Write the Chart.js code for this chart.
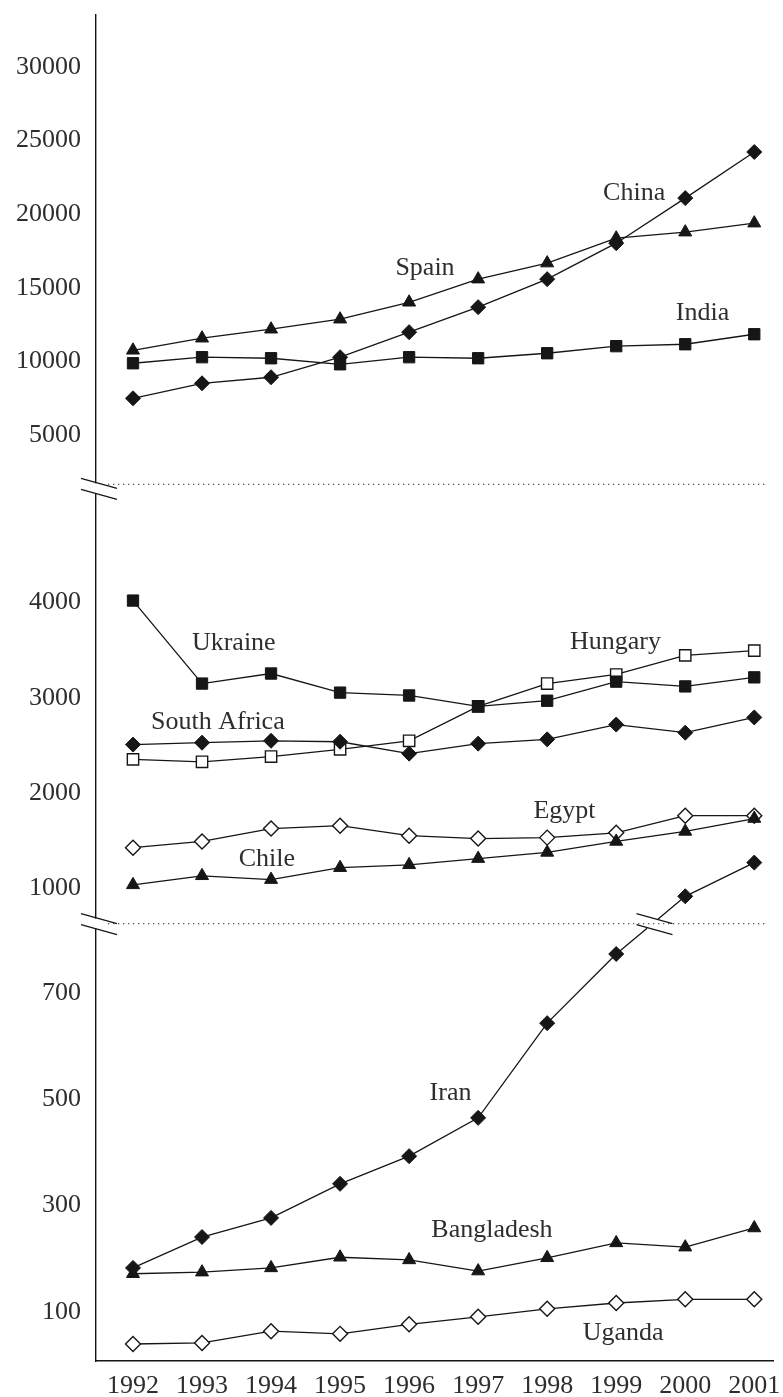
<!DOCTYPE html>
<html>
<head>
<meta charset="utf-8">
<script src="https://cdn.jsdelivr.net/npm/chart.js@4.4.0/dist/chart.umd.min.js"></script>
<style>
  html, body { margin: 0; padding: 0; background: #fff; }
  #wrap { width: 783px; height: 1397px; position: relative; }
</style>
</head>
<body>
<div id="wrap"><canvas id="chart"></canvas></div>
<script>
const years = [1992, 1993, 1994, 1995, 1996, 1997, 1998, 1999, 2000, 2001];

// top panel
const spain = [10770, 11590, 12200, 12880, 14030, 15600, 16690, 18380, 18790, 19400];
const china = [7510, 8530, 8940, 10300, 12000, 13700, 15600, 18040, 21100, 24230];
const india = [9890, 10300, 10230, 9820, 10300, 10230, 10570, 11050, 11180, 11860];

// middle panel
const ukraine = [4020, 3150, 3255, 3055, 3025, 2910, 2970, 3170, 3120, 3215];
const southAfrica = [2510, 2530, 2550, 2540, 2415, 2520, 2565, 2720, 2635, 2795];
const hungary = [2355, 2330, 2385, 2460, 2550, 2910, 3150, 3245, 3445, 3495];
const egypt = [1430, 1495, 1630, 1660, 1555, 1525, 1535, 1585, 1765, 1765];
const chile = [1040, 1135, 1095, 1220, 1250, 1315, 1380, 1495, 1600, 1735];

// bottom panel - Iran climbs into the middle panel from 2000 on
const iran = [183, 241, 277, 341, 393, 465, 643, 773, 920, 1273];
const bangladesh = [172, 175, 183, 203, 198, 177, 202, 230, 222, 258];
const uganda = [40, 42, 64, 59, 77, 91, 106, 117, 124, 124];
const iranSplit = 8;

const topTicks = [5000, 10000, 15000, 20000, 25000, 30000];
const midTicks = [1000, 2000, 3000, 4000];
const lowTicks = [100, 300, 500, 700];

const topRange = [1670, 33530];
const midRange = [633, 5238];
const lowRange = [8, 830];

// series names, written next to the lines (data units)
const labelText = ["Spain", "China", "India", "Ukraine", "South Africa", "Hungary", "Egypt", "Chile", "Iran", "Bangladesh", "Uganda"];
const labelYear = [1996.23, 1999.26, 2000.25, 1993.46, 1993.23, 1998.99, 1998.25, 1993.94, 1996.6, 1997.2, 1999.1];
const labelValue = [16320, 21410, 13260, 3570, 2750, 3580, 1817, 1314, 512, 254, 60];
const labelAxis = ["yTop", "yTop", "yTop", "yMid", "yMid", "yMid", "yMid", "yMid", "yLow", "yLow", "yLow"];

const ink = "#161616";
const textInk = "#2e2e2e";
const serif = "'Liberation Serif', 'Times New Roman', serif";

function series(label, values, axis, style, filled, from = 0, to = values.length) {
  return {
    label,
    yAxisID: axis,
    data: values.slice(from, to).map((v, i) => ({ x: years[from + i], y: v })),
    borderColor: ink,
    borderWidth: 1.3,
    pointStyle: style,
    pointRadius: style === "rect" ? 8 : 7.5,
    pointBackgroundColor: filled ? ink : "#fff",
    pointBorderColor: ink,
    pointBorderWidth: filled ? 1 : 1.4,
    tension: 0,
    fill: false,
  };
}

const datasets = [
  series("Spain", spain, "yTop", "triangle", true),
  series("India", india, "yTop", "rect", true),
  series("China", china, "yTop", "rectRot", true),
  series("Ukraine", ukraine, "yMid", "rect", true),
  series("South Africa", southAfrica, "yMid", "rectRot", true),
  series("Hungary", hungary, "yMid", "rect", false),
  series("Chile", chile, "yMid", "triangle", true),
  series("Egypt", egypt, "yMid", "rectRot", false),
  series("Iran", iran, "yLow", "rectRot", true, 0, iranSplit),
  series("Iran (upper)", iran, "yMid", "rectRot", true, iranSplit),
  series("Bangladesh", bangladesh, "yLow", "triangle", true),
  series("Uganda", uganda, "yLow", "rectRot", false),
];

// ticks never sit at the scale ends, so no edge padding is needed
function noEdgePadding(scale) {
  scale.paddingTop = 0;
  scale.paddingBottom = 0;
  scale.paddingLeft = 0;
  scale.paddingRight = 0;
}

function yScale(range, ticks, weight) {
  return {
    type: "linear",
    position: "left",
    stack: "panels",
    stackWeight: weight,
    min: range[0],
    max: range[1],
    afterBuildTicks: (scale) => { scale.ticks = ticks.map((v) => ({ value: v })); },
    afterFit: noEdgePadding,
    grid: { display: false, drawTicks: false },
    border: { display: true, color: ink, width: 1.4 },
    ticks: {
      padding: 15,
      color: textInk,
      font: { family: serif, size: 26 },
      callback: (v) => String(v),
    },
  };
}

function slash(ctx, cx, cy) {
  ctx.beginPath();
  ctx.moveTo(cx - 18, cy - 5);
  ctx.lineTo(cx + 18, cy + 5);
  ctx.stroke();
}

const breaks = {
  id: "breaks",
  beforeDatasetsDraw(chart) {
    const { ctx, chartArea, scales } = chart;
    ctx.save();
    ctx.strokeStyle = "#555";
    ctx.lineWidth = 1.2;
    ctx.setLineDash([1.3, 3.7]);
    [scales.yTop.bottom, scales.yMid.bottom].forEach((y) => {
      ctx.beginPath();
      ctx.moveTo(chartArea.left + 12, y);
      ctx.lineTo(chartArea.right - 6, y);
      ctx.stroke();
    });
    ctx.restore();
  },
  afterDatasetsDraw(chart) {
    const { ctx, chartArea, scales } = chart;
    // Iran connector across the break
    const low = chart.getDatasetMeta(8).data;
    const high = chart.getDatasetMeta(9).data;
    const a = low[low.length - 1];
    const b = high[0];
    const yb = scales.yMid.bottom;
    const t = (a.y - yb) / (a.y - b.y);
    const cx = a.x + (b.x - a.x) * t;
    const len = Math.hypot(b.x - a.x, b.y - a.y);
    const ux = (b.x - a.x) / len, uy = (b.y - a.y) / len;
    ctx.save();
    ctx.strokeStyle = ink;
    ctx.lineWidth = 1.3;
    ctx.beginPath();
    ctx.moveTo(a.x, a.y);
    ctx.lineTo(cx - ux * 7, yb - uy * 7);
    ctx.moveTo(cx + ux * 7, yb + uy * 7);
    ctx.lineTo(b.x, b.y);
    ctx.stroke();
    ctx.lineWidth = 1.2;
    slash(ctx, cx + 2, yb - 5);
    slash(ctx, cx + 2, yb + 6);

    // axis breaks
    const ax = chartArea.left;
    [scales.yTop.bottom + 4, scales.yMid.bottom].forEach((y) => {
      ctx.fillStyle = "#fff";
      ctx.fillRect(ax - 3, y - 5, 6, 10);
      ctx.strokeStyle = ink;
      slash(ctx, ax + 3, y - 5);
      slash(ctx, ax + 3, y + 6);
    });

    // series names
    ctx.fillStyle = textInk;
    ctx.font = "26px " + serif;
    ctx.textAlign = "center";
    ctx.textBaseline = "middle";
    labelText.forEach((txt, i) => {
      const x = scales.x.getPixelForValue(labelYear[i]);
      const y = scales[labelAxis[i]].getPixelForValue(labelValue[i]);
      ctx.fillText(txt, x, y);
    });
    ctx.restore();
  },
};

new Chart(document.getElementById("chart"), {
  type: "line",
  data: { datasets },
  options: {
    responsive: true,
    maintainAspectRatio: false,
    animation: false,
    layout: { padding: { left: 1, right: 4, top: 15, bottom: -14 } },
    plugins: { legend: { display: false }, tooltip: { enabled: false } },
    scales: {
      x: {
        type: "linear",
        min: 1991.464,
        max: 2001.28,
        afterBuildTicks: (scale) => { scale.ticks = years.map((v) => ({ value: v })); },
        afterFit: noEdgePadding,
        grid: { display: false, drawTicks: false },
        border: { display: true, color: ink, width: 1.4 },
        ticks: {
          padding: 12,
          color: textInk,
          maxRotation: 0,
          autoSkip: false,
          font: { family: serif, size: 26, lineHeight: 1 },
          callback: (v) => String(v),
        },
      },
      yLow: yScale(lowRange, lowTicks, 437),
      yMid: yScale(midRange, midTicks, 439),
      yTop: yScale(topRange, topTicks, 469),
    },
  },
  plugins: [breaks],
});
</script>
</body>
</html>
